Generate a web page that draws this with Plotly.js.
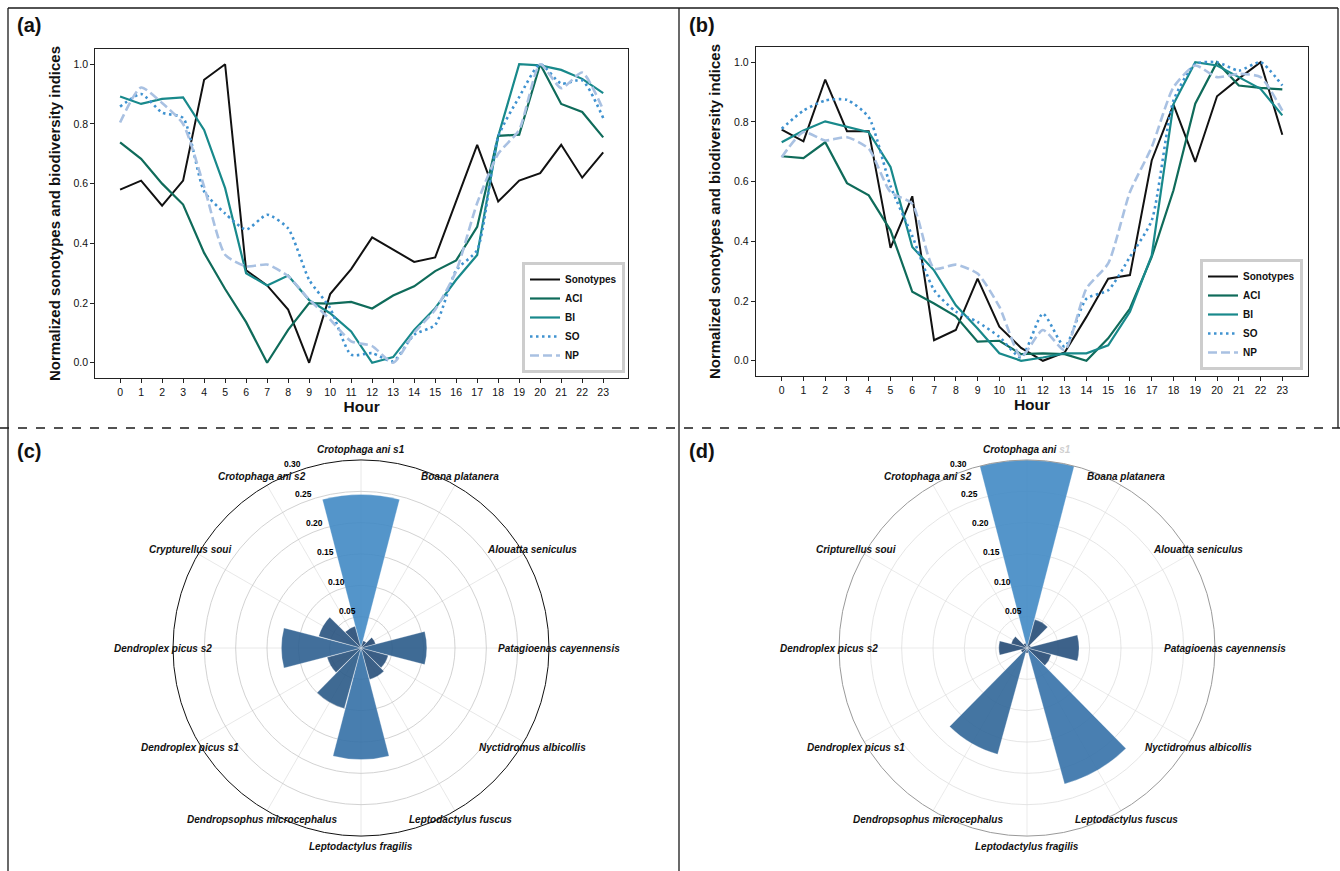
<!DOCTYPE html>
<html>
<head>
<meta charset="utf-8">
<script src="https://cdn.plot.ly/plotly-3.0.1.min.js"></script>
<style>html,body{margin:0;padding:0;background:#fff;}#chart{width:1340px;height:871px;}</style>
</head>
<body>
<div id="chart"></div>
<script>
// ---------- data ----------
const hours = [0,1,2,3,4,5,6,7,8,9,10,11,12,13,14,15,16,17,18,19,20,21,22,23];
const yTicks = [0,0.2,0.4,0.6,0.8,1.0];

// panel (a)
const sonotypesA = [0.58,0.61,0.526,0.61,0.948,1.0,0.31,0.259,0.178,0.0,0.23,0.314,0.42,0.38,0.338,0.353,0.54,0.73,0.54,0.61,0.635,0.73,0.62,0.705];
const aciA = [0.738,0.683,0.60,0.53,0.368,0.247,0.136,0.0,0.11,0.2,0.198,0.204,0.182,0.225,0.256,0.307,0.343,0.455,0.76,0.764,1.0,0.867,0.84,0.755];
const biA = [0.892,0.867,0.884,0.889,0.78,0.585,0.30,0.259,0.292,0.21,0.166,0.105,0.0,0.019,0.11,0.183,0.278,0.361,0.759,1.0,0.996,0.981,0.951,0.903];
const soA = [0.858,0.90,0.838,0.82,0.574,0.50,0.446,0.496,0.45,0.278,0.183,0.027,0.032,0.005,0.094,0.127,0.31,0.378,0.757,0.89,1.0,0.935,0.946,0.82];
const npA = [0.805,0.922,0.87,0.80,0.59,0.362,0.323,0.329,0.29,0.212,0.145,0.072,0.056,0.0,0.10,0.178,0.307,0.535,0.70,0.78,1.0,0.92,0.972,0.847];

// panel (b)
const sonotypesB = [0.774,0.735,0.942,0.769,0.769,0.378,0.551,0.069,0.103,0.275,0.114,0.043,0.0,0.028,0.147,0.275,0.287,0.671,0.858,0.666,0.886,0.945,1.0,0.757];
const aciB = [0.685,0.679,0.732,0.595,0.554,0.437,0.231,0.192,0.149,0.064,0.067,0.022,0.025,0.022,0.0,0.075,0.175,0.348,0.571,0.861,1.0,0.922,0.914,0.909];
const biB = [0.732,0.771,0.802,0.783,0.766,0.649,0.381,0.303,0.186,0.108,0.025,0.0,0.011,0.025,0.025,0.052,0.164,0.353,0.86,1.0,0.989,0.95,0.911,0.822];
const soB = [0.777,0.838,0.872,0.874,0.816,0.585,0.418,0.237,0.165,0.13,0.08,0.011,0.158,0.047,0.208,0.236,0.348,0.47,0.872,0.994,1.0,0.972,1.0,0.922];
const npB = [0.682,0.766,0.738,0.749,0.71,0.565,0.526,0.309,0.322,0.292,0.181,0.013,0.103,0.036,0.242,0.326,0.565,0.716,0.916,0.989,0.95,0.961,0.95,0.838];

const seriesNames = ['Sonotypes','ACI','BI','SO','NP'];

// panel (c) and (d)
const speciesC = ['Crotophaga ani s1','Boana platanera','Alouatta seniculus','Patagioenas cayennensis','Nyctidromus albicollis','Leptodactylus fuscus','Leptodactylus fragilis','Dendropsophus microcephalus','Dendroplex picus s1','Dendroplex picus s2','Crypturellus soui','Crotophaga ani s2'];
const speciesD = ['Crotophaga ani s1','Boana platanera','Alouatta seniculus','Patagioenas cayennensis','Nyctidromus albicollis','Leptodactylus fuscus','Leptodactylus fragilis','Dendropsophus microcephalus','Dendroplex picus s1','Dendroplex picus s2','Cripturellus soui','Crotophaga ani s2'];
const valuesC = [0.245,0.012,0.024,0.105,0.045,0.052,0.178,0.100,0.056,0.127,0.070,0.036];
const valuesD = [0.300,0.047,0.006,0.083,0.040,0.225,0.008,0.176,0.010,0.045,0.026,0.008];
const radialTicks = [0.05,0.10,0.15,0.20,0.25,0.30];
const radialTickText = ['0.05','0.10','0.15','0.20','0.25','0.30'];
const radialMax = 0.30;

// ---------- styling ----------
const W = 1340, H = 871;
const px = v => v / W;
const py = v => 1 - v / H;
const FONT = 'Liberation Sans, Arial, sans-serif';
const NARROW = 'Liberation Sans Narrow, Liberation Sans, Arial, sans-serif';
const lineStyles = [
  {color:'#111111', width:2},
  {color:'#0f6b5a', width:2.2},
  {color:'#18898b', width:2.2},
  {color:'#3f92d0', width:2.6, dash:'2.5px,3.5px', shape:'spline', smoothing:0.6},
  {color:'#a9c1e2', width:2.6, dash:'9px,4px', shape:'spline', smoothing:0.6}
];

const traces = [];
function addLines(sets, xa, ya, leg) {
  sets.forEach((vals, k) => {
    traces.push({
      type:'scatter', mode:'lines', x:hours, y:vals, name:seriesNames[k],
      xaxis:xa, yaxis:ya, legend:leg, line:lineStyles[k], hoverinfo:'skip'
    });
  });
}
addLines([sonotypesA, aciA, biA, soA, npA], 'x', 'y', 'legend');
addLines([sonotypesB, aciB, biB, soB, npB], 'x2', 'y2', 'legend2');

const barScale = [[0,'#22436a'],[0.5,'#2d5f8f'],[0.75,'#3672a9'],[1,'#428ac5']];
function addBars(names, vals, sub) {
  traces.push({
    type:'barpolar', r:vals, theta:names, subplot:sub, showlegend:false,
    opacity:0.9,
    marker:{color:vals, colorscale:barScale, cmin:0, cmax:Math.max(...vals),
            showscale:false, line:{color:'rgba(255,255,255,0.5)', width:0.5}},
    hoverinfo:'skip'
  });
}
addBars(speciesC, valuesC, 'polar');
addBars(speciesD, valuesD, 'polar2');

const axBase = {
  showline:true, mirror:true, linecolor:'#222', linewidth:1.2,
  ticks:'outside', ticklen:4, tickwidth:1, tickcolor:'#222',
  showgrid:false, zeroline:false,
  tickfont:{family:FONT, size:10.5, color:'#111'}
};
function xAx(d0, d1, anchor) {
  return Object.assign({}, axBase, {
    domain:[px(d0), px(d1)], range:[-1.18, 24.18], tickmode:'array', tickvals:hours,
    anchor:anchor,
    title:{text:'Hour', font:{family:FONT, size:15.5, weight:'bold', color:'#111'}, standoff:3}
  });
}
function yAx(top, bottom, anchor) {
  return Object.assign({}, axBase, {
    domain:[py(bottom), py(top)], range:[-0.051, 1.051], tickmode:'array', tickvals:yTicks,
    tickformat:'.1f', anchor:anchor,
    title:{text:'Normalized sonotypes and biodiversity indices',
           font:{family:FONT, size:15, weight:'bold', color:'#111'}, standoff:9}
  });
}
function legendAt(x, yb) {
  return {x:px(x), y:py(yb), xanchor:'left', yanchor:'bottom', bgcolor:'#ffffff',
          bordercolor:'#cdcdcd', borderwidth:3, itemwidth:30, tracegroupgap:0,
          font:{family:NARROW, size:10, weight:'bold', color:'#111'}};
}
function polarAt(cx, cy, R, outline, ringCol, spokeCol) {
  return {
    domain:{x:[px(cx-R), px(cx+R)], y:[py(cy+R), py(cy-R)]},
    bgcolor:'#ffffff', bargap:0.03,
    angularaxis:{type:'category', categoryorder:'array', direction:'clockwise', rotation:90,
                 showticklabels:false, ticks:'', showline:true, linecolor:outline, linewidth:1,
                 gridcolor:spokeCol, gridwidth:0.8},
    radialaxis:{range:[0,radialMax], tickmode:'array', tickvals:radialTicks,
                showticklabels:false, showline:false, ticks:'',
                gridcolor:ringCol, gridwidth:0.8}
  };
}

const annotations = [];
function panelLabel(t, x, y) {
  annotations.push({xref:'paper', yref:'paper', x:px(x), y:py(y), text:t, showarrow:false,
    xanchor:'left', yanchor:'middle', font:{family:FONT, size:20, weight:'bold', color:'#111'}});
}
panelLabel('(a)', 15, 25); panelLabel('(b)', 687, 25);
panelLabel('(c)', 15, 451); panelLabel('(d)', 687, 451);

// category labels placed just outside the polar frame, centred on each category angle
function speciesLabels(names, cx, cy, rL, firstText) {
  names.forEach((n, i) => {
    const a = i * 2 * Math.PI / names.length;
    annotations.push({xref:'paper', yref:'paper',
      x:px(cx + rL*Math.sin(a)), y:py(cy - rL*Math.cos(a)),
      text:(i === 0 && firstText) ? firstText : n, showarrow:false,
      xanchor:'center', yanchor:'middle',
      font:{family:FONT, size:10, weight:'bold', style:'italic', color:'#111'}});
  });
}
// radial tick labels along a ray 20.5 degrees left of north, just outside each ring
function radialLabels(cx, cy, R) {
  const a = -20.5 * Math.PI / 180;
  radialTicks.forEach((v, i) => {
    const r = v / radialMax * R + 8;
    annotations.push({xref:'paper', yref:'paper',
      x:px(cx + r*Math.sin(a)), y:py(cy - r*Math.cos(a)),
      text:radialTickText[i], showarrow:false, xanchor:'center', yanchor:'middle',
      font:{family:FONT, size:8.5, weight:'bold', color:'#000'}});
  });
}
speciesLabels(speciesC, 361, 648, 198);
speciesLabels(speciesD, 1027, 648, 198, 'Crotophaga ani <span style="color:#cfcfcf">s1</span>');
radialLabels(361, 648, 188);
radialLabels(1027, 648, 188);

const line = (x0,y0,x1,y1,dash,w) => ({type:'line', xref:'paper', yref:'paper',
  x0:px(x0), y0:py(y0), x1:px(x1), y1:py(y1), line:{color:'#1a1a1a', width:w||1.3, dash:dash||'solid'}});
const shapes = [
  line(8,8,1338,8), line(8,8,8,871), line(679,8,679,871), line(1338,8,1338,428),
  line(0,428,1340,428,'dash',1.6)
];

const layout = {
  width:W, height:H, margin:{l:0,r:0,t:0,b:0}, paper_bgcolor:'#ffffff', plot_bgcolor:'#ffffff',
  font:{family:FONT, color:'#111'},
  xaxis:xAx(95.3, 628, 'y'), yaxis:yAx(49, 378, 'x'),
  xaxis2:xAx(756, 1308, 'y2'), yaxis2:yAx(47, 376, 'x2'),
  legend:legendAt(522, 373), legend2:legendAt(1200, 370),
  polar:polarAt(361, 648, 188, '#111111', '#c6c6c6', '#e2e2e2'),
  polar2:polarAt(1027, 648, 188, '#9a9a9a', '#dedede', '#e6e6e6'),
  annotations:annotations, shapes:shapes, showlegend:true
};

Plotly.newPlot('chart', traces, layout, {staticPlot:true, displayModeBar:false});
</script>
</body>
</html>
